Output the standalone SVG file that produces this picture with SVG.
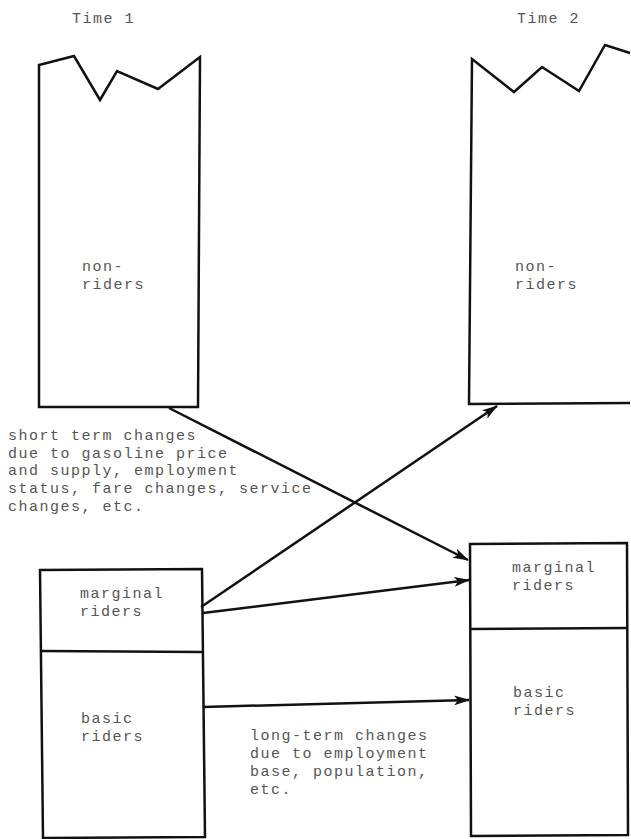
<svg xmlns="http://www.w3.org/2000/svg" width="631" height="839" viewBox="0 0 631 839">
<style>
.t{font-family:"Liberation Mono","DejaVu Sans Mono",monospace;font-size:15px;letter-spacing:1.5px;fill:#555}
.b{fill:none;stroke:#111;stroke-width:2.5;stroke-linejoin:miter}
.c{fill:none;stroke:#111;stroke-width:2.5}
</style>
<defs>
<marker id="ah" viewBox="0 0 16 10" refX="15" refY="5" markerWidth="16" markerHeight="10" orient="auto" markerUnits="userSpaceOnUse">
<path d="M0,0 L16,5 L0,10 L4,5 z" fill="#111"/>
</marker>
</defs>
<rect width="631" height="839" fill="#fff"/>
<text class="t" x="72" y="23">Time 1</text>
<text class="t" x="517" y="23">Time 2</text>
<g id="nonriders1">
<path class="b" d="M39,407 L39,65 L74,56 L100,100 L117,71 L158,89 L200,57 L198,407 Z"/>
<text class="t" x="82" y="271">non-</text>
<text class="t" x="82" y="289">riders</text>
</g>
<g id="nonriders2">
<path class="b" d="M630,53 L605,45 L579,91 L542,67 L514,92 L472,59 L469,404 L630,403"/>
<text class="t" x="515" y="271">non-</text>
<text class="t" x="515" y="289">riders</text>
</g>
<g id="riders1">
<path class="b" d="M40,570 L202,569 L205,837 L43,838 Z"/>
<path class="b" d="M41,651 L203,652"/>
<text class="t" x="80" y="598">marginal</text>
<text class="t" x="80" y="616">riders</text>
<text class="t" x="81" y="723">basic</text>
<text class="t" x="81" y="741">riders</text>
</g>
<g id="riders2">
<path class="b" d="M470,544 L627,543 L628,835 L471,836 Z"/>
<path class="b" d="M470,629 L628,628"/>
<text class="t" x="512" y="572">marginal</text>
<text class="t" x="512" y="590">riders</text>
<text class="t" x="513" y="697">basic</text>
<text class="t" x="513" y="715">riders</text>
</g>
<g id="notes">
<text class="t" x="8" y="440">short term changes</text>
<text class="t" x="8" y="458">due to gasoline price</text>
<text class="t" x="8" y="475">and supply, employment</text>
<text class="t" x="8" y="493">status, fare changes, service</text>
<text class="t" x="8" y="511">changes, etc.</text>
<text class="t" x="250" y="740">long-term changes</text>
<text class="t" x="250" y="758">due to employment</text>
<text class="t" x="250" y="776">base, population,</text>
<text class="t" x="250" y="794">etc.</text>
</g>
<g id="connectors">
<path class="c" d="M169,408 L468,560" marker-end="url(#ah)"/>
<path class="c" d="M201,607 L497,406" marker-end="url(#ah)"/>
<path class="c" d="M203,613 L469,580" marker-end="url(#ah)"/>
<path class="c" d="M203,707 L469,700" marker-end="url(#ah)"/>
</g>
</svg>
